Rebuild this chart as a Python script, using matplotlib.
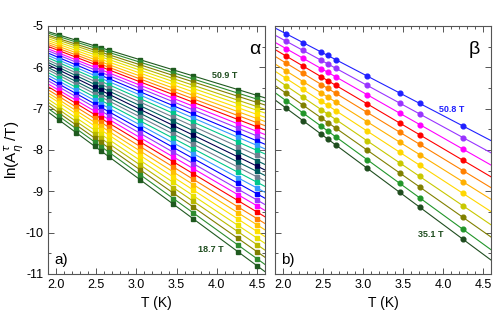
import matplotlib
matplotlib.use("Agg")
import matplotlib.pyplot as plt
from matplotlib.ticker import MultipleLocator, FormatStrFormatter
import numpy as np

plt.rcParams['font.family'] = ['Liberation Sans', 'DejaVu Sans']
plt.rcParams['axes.unicode_minus'] = False

# ---- data ----
temps_a = [2.04, 2.25, 2.48, 2.56, 2.66, 3.05, 3.46, 3.71, 4.26, 4.50]
temps_b = [2.04, 2.25, 2.48, 2.56, 2.66, 3.05, 3.46, 3.71, 4.25]

# panel a: value of each fitted line at T=2.04 K and at T=4.50 K (top = 50.9 T, bottom = 18.7 T)
a_at_low = [-5.22, -5.26, -5.31, -5.35, -5.40, -5.45, -5.50, -5.55, -5.60, -5.66, -5.71,
            -5.77, -5.83, -5.89, -5.95, -6.01, -6.07, -6.14, -6.20, -6.27, -6.34, -6.41,
            -6.48, -6.56, -6.63, -6.71, -6.79, -6.86, -6.95, -7.03, -7.11, -7.19, -7.28]
a_at_high = [-6.68, -6.77, -6.85, -6.95, -7.04, -7.14, -7.24, -7.34, -7.44, -7.55, -7.66,
             -7.78, -7.89, -8.01, -8.13, -8.26, -8.39, -8.52, -8.65, -8.78, -8.92, -9.06,
             -9.21, -9.35, -9.50, -9.66, -9.81, -9.97, -10.13, -10.29, -10.46, -10.63, -10.80]
a_colors = ['#1f5a1f', '#2e8b2e', '#7f7f00', '#b8b800', '#e8e000', '#ffe000', '#ffc000',
            '#ff8000', '#ff0000', '#ff00ff', '#9933ff', '#0000ff', '#3399ff', '#00c78c',
            '#708090', '#005f5f', '#000050',
            '#005f5f', '#708090', '#00c78c', '#3399ff', '#0000ff', '#9933ff', '#ff00ff',
            '#ff0000', '#ff8000', '#ffc000', '#ffe000', '#e8e000', '#b8b800', '#7f7f00',
            '#2e8b2e', '#1f5a1f']

# panel b: value of each fitted line at T=2.04 K and at T=4.25 K (top = 50.8 T, bottom = 35.1 T)
b_at_low = [-5.19, -5.37, -5.55, -5.73, -5.90, -6.09, -6.27, -6.45, -6.63, -6.81, -6.99]
b_at_high = [-7.42, -7.70, -7.98, -8.25, -8.50, -8.77, -9.05, -9.35, -9.63, -9.92, -10.16]
b_colors = ['#2020ff', '#9933ff', '#ff00ff', '#ff0000', '#ff8000', '#ffb000',
            '#ffd700', '#c8c800', '#808000', '#22962a', '#1f4d1f']

xlims = (1.9, 4.6)
ylims = (-11, -5)

fig = plt.figure(figsize=(4.98, 3.18), dpi=100)
axa = fig.add_axes([0.0964, 0.1384, 0.4357, 0.780])
axb = fig.add_axes([0.5522, 0.1384, 0.4337, 0.780])


def draw(ax, temps, lows, highs, t_lo, t_hi, colors, marker, ms):
    tl = np.array(xlims)
    tp = np.array(temps)
    for lo, hi, c in zip(lows, highs, colors):
        slope = (hi - lo) / (t_hi - t_lo)
        ax.plot(tl, lo + slope * (tl - t_lo), color=c, lw=0.8, zorder=2)
        ax.plot(tp, lo + slope * (tp - t_lo), ls='none', marker=marker, ms=ms,
                color=c, mec=c, zorder=3)


draw(axa, temps_a, a_at_low, a_at_high, 2.04, 4.50, a_colors, 's', 3.0)
draw(axb, temps_b, b_at_low, b_at_high, 2.04, 4.25, b_colors, 'o', 3.4)

for ax in (axa, axb):
    ax.set_xlim(*xlims)
    ax.set_ylim(*ylims)
    ax.xaxis.set_major_locator(MultipleLocator(0.5))
    ax.xaxis.set_minor_locator(MultipleLocator(0.1))
    ax.yaxis.set_major_locator(MultipleLocator(1))
    ax.yaxis.set_minor_locator(MultipleLocator(0.5))
    ax.xaxis.set_major_formatter(FormatStrFormatter('%.1f'))
    ax.tick_params(which='both', direction='in', top=True, right=True,
                   color='#555555', labelsize=9, width=0.7)
    ax.tick_params(which='major', length=4)
    ax.tick_params(which='minor', length=2)
    for s in ax.spines.values():
        s.set_color('#555555')
        s.set_linewidth(0.8)
    ax.set_xlabel('T (K)', fontsize=10, labelpad=4)

axb.tick_params(labelleft=False)
axa.set_ylabel(r'ln(A$_\eta^\tau$ /T)', fontsize=11, labelpad=0)

axa.text(0.98, 0.94, 'α', transform=axa.transAxes, ha='right', va='top', fontsize=14)
axb.text(0.95, 0.94, 'β', transform=axb.transAxes, ha='right', va='top', fontsize=14)
axa.text(0.03, 0.03, 'a)', transform=axa.transAxes, ha='left', va='bottom', fontsize=11)
axb.text(0.03, 0.03, 'b)', transform=axb.transAxes, ha='left', va='bottom', fontsize=11)

axa.text(4.10, -6.21, '50.9 T', color='#1f4d1f', fontsize=6.5, fontweight='bold',
         ha='center', va='center')
axa.text(3.92, -10.40, '18.7 T', color='#1f4d1f', fontsize=6.5, fontweight='bold',
         ha='center', va='center')
axb.text(4.11, -7.01, '50.8 T', color='#2020ff', fontsize=6.5, fontweight='bold',
         ha='center', va='center')
axb.text(3.85, -10.04, '35.1 T', color='#1f4d1f', fontsize=6.5, fontweight='bold',
         ha='center', va='center')

fig.savefig('out.png', dpi=100)
